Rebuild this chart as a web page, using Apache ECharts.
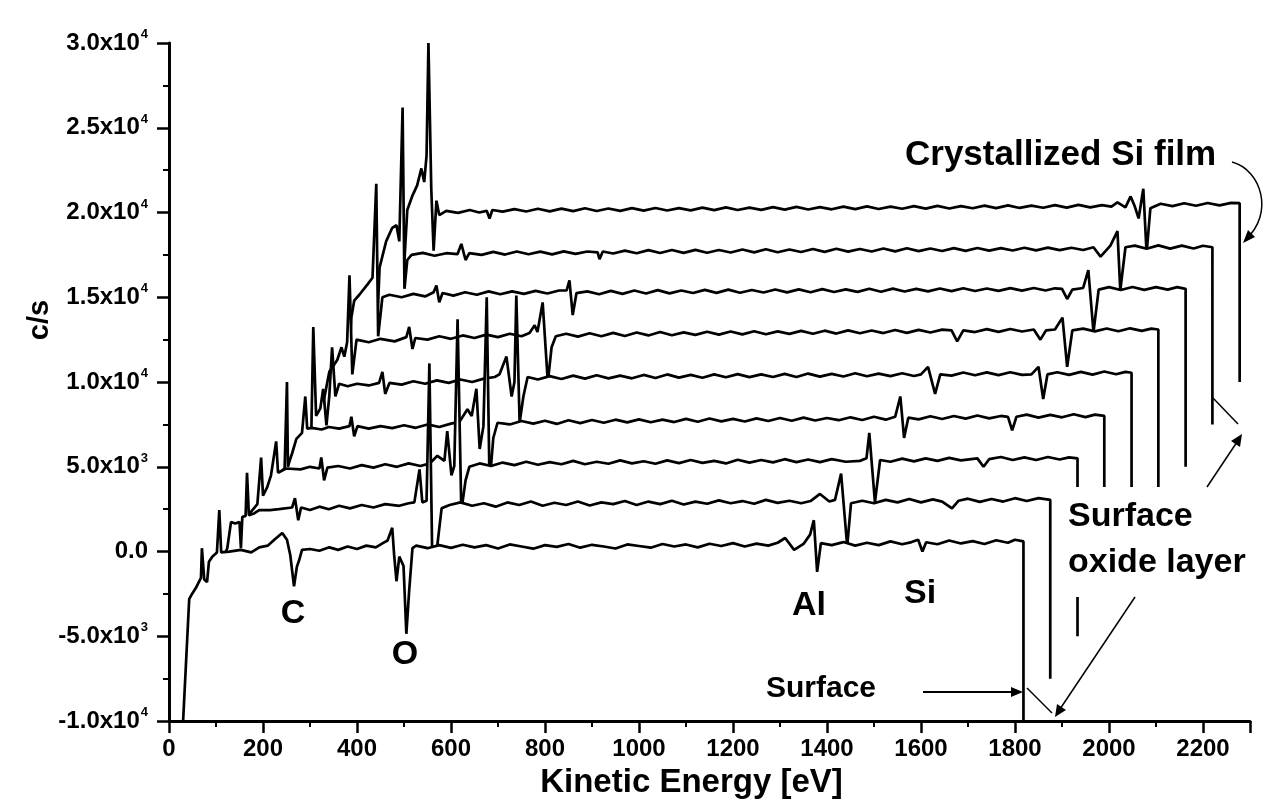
<!DOCTYPE html>
<html>
<head>
<meta charset="utf-8">
<script src="https://cdn.jsdelivr.net/npm/echarts@6/dist/echarts.min.js"></script>
<style>html,body{margin:0;padding:0;background:#fff;}#chart{width:1288px;height:804px;}</style>
</head>
<body>
<div id="chart"></div>
<script>
// Waterfall of AES spectra (display values already include the plot's waterfall offset)
const spectrumNames = ['Surface','Layer 2','Layer 3','Layer 4','Layer 5','Layer 6','Layer 7','Layer 8','Crystallized Si film'];

const spec1 = [[30,-10000],[43,-2800],[49,-2500],[58,-2100],[68,-1550],[70,200],[75,-1650],[81,-1800],[85,-600],[92,-300],[102,-50],[107,2450],[111,-50],[128,0],[153,100],[175,-50],[192,250],[210,350],[224,700],[241,1100],[251,700],[258,-200],[266,-2050],[272,-900],[277,-500],[283,100],[300,150],[320,50],[341,250],[360,100],[380,300],[400,150],[420,350],[440,250],[455,500],[465,650],[475,1400],[479,-200],[484,-1750],[490,-300],[499,-850],[505,-4850],[511,-2300],[518,200],[526,350],[550,200],[575,380],[600,220],[625,400],[650,250],[675,380],[700,180],[725,420],[750,300],[775,170],[800,380],[825,280],[850,450],[875,230],[900,400],[925,300],[950,180],[975,420],[1000,330],[1025,230],[1050,450],[1075,300],[1100,420],[1125,250],[1150,460],[1175,330],[1200,500],[1225,300],[1250,470],[1275,350],[1295,520],[1311,800],[1330,100],[1350,450],[1364,1000],[1372,1850],[1379,-1200],[1387,500],[1410,380],[1435,560],[1460,350],[1485,520],[1510,380],[1535,600],[1560,430],[1580,560],[1594,700],[1603,0],[1611,550],[1635,430],[1660,650],[1685,480],[1710,620],[1735,450],[1760,670],[1785,520],[1800,700],[1818,600],[1818,-10000]];

const spec2 = [[87,-7500],[95,-1500],[105,-500],[118,-200],[124,200],[132,1750],[141,1650],[150,1750],[153,200],[156,2050],[163,2100],[166,4650],[170,2150],[181,2250],[192,2450],[215,2450],[234,2500],[262,2600],[268,3150],[275,1850],[281,2600],[300,2450],[320,2650],[340,2500],[362,2700],[385,2550],[410,2750],[435,2600],[460,2800],[490,2700],[510,2850],[522,2900],[533,4850],[539,2900],[548,3000],[554,11100],[560,-200],[571,400],[580,2550],[597,2750],[620,2900],[645,2700],[670,2850],[695,2650],[720,2900],[745,2750],[770,2950],[795,2700],[820,2880],[845,2750],[870,2950],[895,2720],[920,2900],[945,2800],[970,2980],[995,2750],[1020,2950],[1045,2800],[1070,3000],[1095,2780],[1120,2950],[1145,2820],[1170,3020],[1195,2850],[1220,2980],[1245,2820],[1270,3050],[1295,2870],[1320,3000],[1345,2850],[1365,2980],[1385,3400],[1405,2950],[1417,3050],[1430,4600],[1443,300],[1451,2850],[1475,3000],[1500,2850],[1525,3050],[1550,2900],[1575,3100],[1600,2900],[1625,3080],[1645,2950],[1666,2550],[1680,3000],[1700,3120],[1725,2930],[1750,3100],[1775,2950],[1800,3150],[1825,2980],[1850,3150],[1875,3050],[1875,-7500]];

const spec3 = [[145,-5000],[160,1000],[170,2200],[188,2800],[196,5550],[200,3300],[209,3800],[217,4500],[228,6500],[232,4650],[249,4900],[280,4850],[300,5000],[320,4900],[324,5550],[330,4200],[337,4950],[360,5050],[385,4900],[410,5100],[435,4950],[460,5150],[485,5000],[510,5200],[535,5050],[555,5200],[571,5650],[586,5350],[592,7100],[601,4500],[607,5050],[614,13700],[622,2400],[631,4200],[639,5000],[661,5200],[685,5050],[710,5250],[735,5100],[760,5300],[785,5120],[810,5280],[835,5150],[860,5350],[885,5150],[910,5300],[935,5180],[960,5380],[985,5200],[1010,5330],[1035,5180],[1060,5380],[1085,5220],[1110,5400],[1135,5230],[1160,5350],[1185,5200],[1210,5420],[1235,5250],[1260,5400],[1285,5260],[1310,5450],[1335,5280],[1360,5430],[1385,5280],[1410,5450],[1440,5300],[1470,5350],[1484,5500],[1490,7000],[1502,2900],[1513,5400],[1535,5300],[1560,5480],[1585,5320],[1610,5500],[1635,5350],[1660,5530],[1685,5380],[1720,5500],[1733,5000],[1745,5450],[1770,5580],[1795,5400],[1820,5560],[1845,5400],[1870,5580],[1895,5430],[1915,5560],[1933,5500],[1933,-5000]];

const spec4 = [[202,-2500],[220,2500],[234,4600],[246,4900],[251,10000],[253,5000],[256,5300],[262,5800],[271,6650],[283,7000],[290,9150],[294,7250],[303,7300],[325,7200],[340,7350],[362,7250],[384,7400],[388,7950],[394,6800],[401,7400],[425,7250],[450,7400],[475,7280],[500,7450],[525,7300],[550,7500],[575,7350],[600,7550],[618,7650],[635,8400],[644,8000],[654,9600],[661,6050],[669,7400],[676,15000],[682,4000],[690,6700],[699,7600],[725,7500],[750,7700],[775,7550],[800,7720],[825,7530],[850,7750],[875,7580],[900,7760],[925,7600],[950,7780],[975,7620],[1000,7800],[1025,7630],[1050,7780],[1075,7640],[1100,7830],[1125,7660],[1150,7850],[1175,7680],[1200,7830],[1225,7670],[1250,7860],[1275,7700],[1300,7880],[1325,7720],[1350,7900],[1375,7730],[1400,7880],[1425,7750],[1450,7920],[1475,7760],[1500,7950],[1525,7780],[1545,7950],[1556,9150],[1564,6700],[1573,7900],[1595,7800],[1620,7980],[1645,7820],[1670,8000],[1695,7840],[1720,8030],[1745,7860],[1770,8000],[1785,7950],[1794,7150],[1803,7950],[1825,8080],[1850,7900],[1875,8060],[1900,7920],[1925,8100],[1950,7930],[1970,8080],[1990,8000],[1990,-2500]];

const spec5 = [[260,0],[275,5000],[288,6300],[303,7300],[307,13250],[313,8000],[322,8450],[328,9600],[335,7450],[341,9150],[347,12050],[354,9150],[362,9900],[380,9750],[400,9900],[425,9800],[447,9950],[454,10600],[460,9300],[469,9950],[495,9850],[520,10050],[545,9900],[570,10100],[595,9950],[620,10150],[645,10000],[670,10200],[693,10300],[703,10450],[718,11500],[729,9150],[735,10000],[739,15100],[746,7600],[754,9150],[763,10300],[785,10150],[810,10350],[835,10180],[860,10380],[885,10200],[910,10400],[935,10220],[960,10380],[985,10220],[1010,10420],[1035,10240],[1060,10450],[1085,10260],[1110,10420],[1135,10250],[1160,10450],[1185,10280],[1210,10470],[1235,10290],[1260,10450],[1285,10300],[1310,10480],[1335,10300],[1360,10500],[1385,10320],[1410,10480],[1435,10330],[1460,10520],[1485,10340],[1510,10500],[1535,10350],[1560,10520],[1585,10360],[1600,10450],[1615,10900],[1630,9300],[1641,10450],[1665,10380],[1690,10560],[1715,10400],[1740,10570],[1765,10410],[1790,10580],[1815,10420],[1835,10450],[1850,10900],[1860,9000],[1869,10450],[1890,10580],[1915,10420],[1940,10600],[1965,10440],[1990,10620],[2015,10460],[2035,10600],[2048,10550],[2048,0]];

const spec6 = [[317,2500],[330,9000],[341,10600],[358,11300],[367,12050],[373,11500],[379,12350],[384,16300],[390,10450],[399,12500],[425,12350],[450,12550],[480,12400],[505,12650],[511,13250],[518,11950],[524,12600],[550,12500],[575,12700],[600,12550],[625,12750],[650,12600],[675,12800],[700,12650],[725,12850],[750,12700],[767,12900],[778,13350],[784,12950],[795,14700],[806,10000],[814,12050],[823,12700],[845,12850],[870,12680],[895,12880],[920,12700],[945,12900],[970,12720],[995,12920],[1020,12750],[1045,12950],[1070,12760],[1095,12930],[1120,12780],[1145,12970],[1170,12800],[1195,12980],[1220,12810],[1245,13000],[1270,12820],[1295,12990],[1320,12840],[1345,13020],[1370,12850],[1395,13030],[1420,12860],[1445,13050],[1470,12880],[1495,13040],[1520,12890],[1545,13070],[1570,12900],[1595,13080],[1620,12920],[1645,13090],[1665,13050],[1677,12400],[1690,13050],[1715,12950],[1740,13120],[1765,12960],[1790,13130],[1815,12980],[1840,13100],[1854,12500],[1866,13050],[1885,13100],[1901,13800],[1911,10900],[1922,13050],[1945,13150],[1970,12990],[1995,13160],[2020,13000],[2045,13170],[2070,13020],[2090,13150],[2105,13100],[2105,2500]];

const spec7 = [[375,5000],[385,12000],[388,13800],[394,14800],[405,15150],[422,15750],[433,16150],[441,21700],[445,12700],[454,15000],[469,15150],[495,15000],[520,15200],[545,15050],[563,15300],[569,15700],[575,14700],[582,15250],[605,15100],[630,15300],[655,15150],[680,15350],[705,15180],[730,15350],[755,15200],[780,15380],[805,15220],[830,15400],[846,15400],[852,16000],[859,13950],[867,15250],[890,15350],[915,15180],[940,15380],[965,15200],[990,15400],[1015,15220],[1040,15420],[1065,15230],[1090,15400],[1115,15250],[1140,15440],[1165,15260],[1190,15450],[1215,15270],[1240,15430],[1265,15280],[1290,15460],[1315,15290],[1340,15470],[1365,15300],[1390,15480],[1415,15310],[1440,15470],[1465,15320],[1490,15500],[1515,15330],[1540,15510],[1565,15340],[1590,15500],[1615,15350],[1640,15520],[1665,15360],[1690,15530],[1715,15370],[1740,15520],[1765,15380],[1790,15540],[1815,15390],[1840,15550],[1865,15400],[1885,15530],[1900,15500],[1911,14900],[1922,15450],[1945,15550],[1956,16600],[1967,12950],[1978,15450],[2000,15600],[2025,15430],[2050,15610],[2075,15440],[2100,15600],[2125,15450],[2145,15600],[2163,15500],[2163,5000]];

const spec8 = [[432,7500],[443,13250],[448,16750],[462,18300],[475,19100],[484,19250],[490,18300],[497,26200],[501,15500],[507,17200],[516,17500],[540,17620],[565,17450],[590,17600],[614,17550],[622,18150],[631,17200],[639,17600],[665,17500],[690,17680],[715,17520],[740,17700],[765,17540],[790,17690],[815,17530],[840,17710],[865,17560],[890,17700],[912,17650],[916,17250],[923,17700],[945,17580],[970,17750],[995,17600],[1020,17780],[1045,17610],[1070,17790],[1095,17620],[1120,17800],[1145,17630],[1170,17790],[1195,17640],[1220,17820],[1245,17650],[1270,17830],[1295,17660],[1320,17820],[1345,17670],[1370,17850],[1395,17680],[1420,17860],[1445,17690],[1470,17850],[1495,17700],[1520,17880],[1545,17710],[1570,17890],[1595,17720],[1620,17880],[1645,17730],[1670,17900],[1695,17740],[1720,17910],[1745,17750],[1770,17900],[1795,17760],[1820,17920],[1845,17770],[1870,17930],[1895,17780],[1920,17920],[1945,17790],[1967,17950],[1982,17400],[2003,18050],[2018,18900],[2024,15400],[2035,17950],[2055,18050],[2080,17860],[2105,18060],[2130,17870],[2155,18050],[2180,17880],[2200,18040],[2220,17950],[2220,7500]];

const spec9 = [[490,10000],[501,17200],[507,20150],[518,21000],[528,21600],[537,22600],[543,21800],[548,23350],[552,30000],[558,21400],[563,17750],[569,20700],[575,19850],[590,20100],[615,19980],[640,20150],[660,20000],[676,20100],[682,19650],[688,20150],[710,20050],[735,20200],[760,20060],[785,20220],[810,20070],[835,20230],[860,20080],[885,20250],[910,20090],[935,20240],[960,20100],[985,20260],[1010,20110],[1035,20270],[1060,20120],[1085,20260],[1110,20130],[1135,20290],[1160,20140],[1185,20300],[1210,20150],[1235,20290],[1260,20160],[1285,20320],[1310,20170],[1335,20330],[1360,20180],[1385,20320],[1410,20190],[1435,20350],[1460,20200],[1485,20360],[1510,20210],[1535,20350],[1560,20220],[1585,20380],[1610,20230],[1635,20390],[1660,20240],[1685,20380],[1710,20250],[1735,20410],[1760,20260],[1785,20420],[1810,20270],[1835,20410],[1860,20280],[1885,20440],[1910,20290],[1935,20450],[1960,20300],[1985,20440],[2005,20350],[2018,20600],[2035,20300],[2046,20950],[2055,20350],[2063,19650],[2073,21400],[2080,17600],[2088,20250],[2110,20520],[2135,20380],[2160,20550],[2185,20400],[2210,20560],[2235,20420],[2260,20570],[2278,20550],[2278,10000]];

const spectra = [spec1, spec2, spec3, spec4, spec5, spec6, spec7, spec8, spec9];

const xTickLabels = ['0','200','400','600','800','1000','1200','1400','1600','1800','2000','2200'];
const yTickValues = [-10000,-5000,0,5000,10000,15000,20000,25000,30000];
const yTickMantissa = ['-1.0','-5.0','0.0','5.0','1.0','1.5','2.0','2.5','3.0'];
const yTickExponent = ['4','3','','3','4','4','4','4','4'];

const FONT = '"Liberation Sans", Arial, Helvetica, sans-serif';

const chart = echarts.init(document.getElementById('chart'), null, {renderer:'canvas'});

const series = spectra.map((d, i) => ({
  name: spectrumNames[i],
  type: 'line',
  data: d,
  showSymbol: false,
  symbol: 'none',
  silent: true,
  z: 20 - i,
  lineStyle: {color: '#000', width: 2.7},
  areaStyle: {color: '#fff', opacity: 1, origin: 'start'}
}));

const option = {
  animation: false,
  backgroundColor: '#fff',
  grid: {left: 169, right: 38, top: 43, bottom: 76, containLabel: false},
  xAxis: {
    type: 'value', min: 0, max: 2300, interval: 200, z: 50,
    name: 'Kinetic Energy [eV]', nameLocation: 'middle', nameGap: 42,
    nameTextStyle: {fontFamily: FONT, fontWeight: 'bold', fontSize: 33, color: '#000', padding: [0, 36, 0, 0]},
    axisLine: {show: true, onZero: false, lineStyle: {color: '#000', width: 3}},
    axisTick: {show: true, length: 12, lineStyle: {color: '#000', width: 2.5}},
    minorTick: {show: true, splitNumber: 2, length: 6, lineStyle: {color: '#000', width: 2}},
    splitLine: {show: false},
    axisLabel: {
      margin: 16, showMaxLabel: false, color: '#000', fontFamily: FONT, fontWeight: 'bold', fontSize: 24,
      formatter: v => { const i = Math.round(v / 200); return (v % 200 === 0 && xTickLabels[i] !== undefined) ? xTickLabels[i] : ''; }
    }
  },
  yAxis: {
    type: 'value', min: -10000, max: 30000, interval: 5000, z: 50,
    axisLine: {show: true, onZero: false, lineStyle: {color: '#000', width: 3}},
    axisTick: {show: true, length: 12, lineStyle: {color: '#000', width: 2.5}},
    minorTick: {show: true, splitNumber: 2, length: 6, lineStyle: {color: '#000', width: 2}},
    splitLine: {show: false},
    axisLabel: {
      margin: 21,
      formatter: v => {
        const i = yTickValues.indexOf(v);
        if (i < 0) return '';
        return yTickExponent[i] ? '{m|' + yTickMantissa[i] + 'x10}{e|' + yTickExponent[i] + '}' : '{m|' + yTickMantissa[i] + '}';
      },
      rich: {
        m: {fontFamily: FONT, fontWeight: 'bold', fontSize: 24, color: '#000', lineHeight: 30},
        e: {fontFamily: FONT, fontWeight: 'bold', fontSize: 13, color: '#000', lineHeight: 30, verticalAlign: 'top', padding: [0, 0, 0, 1]}
      }
    }
  },
  series: series,
  graphic: {
    elements: [
      {type: 'text', z: 100, x: 40, y: 320, rotation: Math.PI / 2,
       style: {text: 'c/s', font: 'bold 29px ' + FONT, fill: '#000', align: 'center', verticalAlign: 'middle'}},
      {type: 'text', z: 100, x: 905, y: 155,
       style: {text: 'Crystallized Si film', font: 'bold 35px ' + FONT, fill: '#000', align: 'left', verticalAlign: 'middle'}},
      {type: 'bezierCurve', z: 100, shape: {x1: 1232, y1: 162, cpx1: 1262, cpy1: 170, cpx2: 1274, cpy2: 214, x2: 1246, y2: 239},
       style: {stroke: '#000', lineWidth: 1.5, fill: null}},
      {type: 'polygon', z: 100, shape: {points: [[1243, 243], [1255, 237], [1248, 230]]}, style: {fill: '#000'}},
      {type: 'rect', z: 99, shape: {x: 1062, y: 487, width: 228, height: 110}, style: {fill: '#fff'}},
      {type: 'text', z: 100, x: 1068, y: 517,
       style: {text: 'Surface', font: 'bold 34px ' + FONT, fill: '#000', align: 'left', verticalAlign: 'middle'}},
      {type: 'text', z: 100, x: 1068, y: 563,
       style: {text: 'oxide layer', font: 'bold 34px ' + FONT, fill: '#000', align: 'left', verticalAlign: 'middle'}},
      {type: 'line', z: 100, shape: {x1: 1213, y1: 398, x2: 1238, y2: 424}, style: {stroke: '#000', lineWidth: 1.5}},
      {type: 'line', z: 100, shape: {x1: 1207, y1: 487, x2: 1237, y2: 442}, style: {stroke: '#000', lineWidth: 1.5}},
      {type: 'polygon', z: 100, shape: {points: [[1242, 434], [1240, 447], [1231, 441]]}, style: {fill: '#000'}},
      {type: 'line', z: 100, shape: {x1: 1027, y1: 688, x2: 1052, y2: 713}, style: {stroke: '#000', lineWidth: 1.5}},
      {type: 'line', z: 100, shape: {x1: 1135, y1: 597, x2: 1060, y2: 709}, style: {stroke: '#000', lineWidth: 1.5}},
      {type: 'polygon', z: 100, shape: {points: [[1055, 717], [1066, 710], [1057, 704]]}, style: {fill: '#000'}},
      {type: 'text', z: 100, x: 766, y: 689,
       style: {text: 'Surface', font: 'bold 30px ' + FONT, fill: '#000', align: 'left', verticalAlign: 'middle'}},
      {type: 'line', z: 100, shape: {x1: 923, y1: 692, x2: 1013, y2: 692}, style: {stroke: '#000', lineWidth: 2}},
      {type: 'polygon', z: 100, shape: {points: [[1023, 692], [1011, 687], [1011, 697]]}, style: {fill: '#000'}},
      {type: 'text', z: 100, x: 293, y: 614,
       style: {text: 'C', font: 'bold 34px ' + FONT, fill: '#000', align: 'center', verticalAlign: 'middle'}},
      {type: 'text', z: 100, x: 405, y: 655,
       style: {text: 'O', font: 'bold 34px ' + FONT, fill: '#000', align: 'center', verticalAlign: 'middle'}},
      {type: 'text', z: 100, x: 792, y: 606,
       style: {text: 'Al', font: 'bold 34px ' + FONT, fill: '#000', align: 'left', verticalAlign: 'middle'}},
      {type: 'text', z: 100, x: 904, y: 594,
       style: {text: 'Si', font: 'bold 34px ' + FONT, fill: '#000', align: 'left', verticalAlign: 'middle'}}
    ]
  }
};

chart.setOption(option);
</script>
</body>
</html>
